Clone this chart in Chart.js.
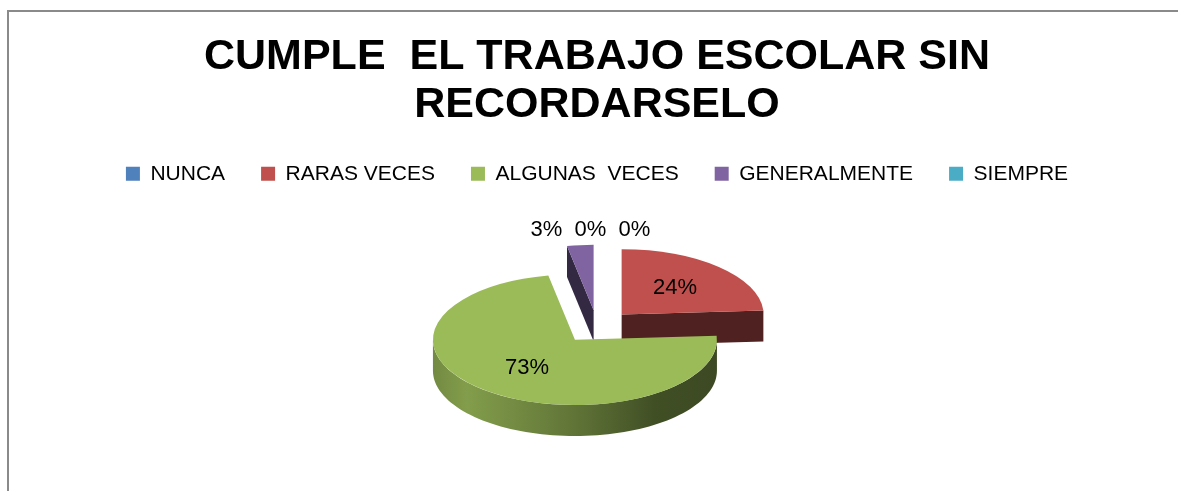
<!doctype html>
<html lang="es">
  <head>
    <meta charset="utf-8">
    <title>Cumple el trabajo escolar sin recordarselo</title>
    <style>
      * {
        margin: 0;
        padding: 0;
      }
      body {
        background: #fff;
        width: 1178px;
        height: 491px;
        overflow: hidden;
        position: relative;
      }
      .frame {
        position: absolute;
        left: 7px;
        top: 10px;
        width: 1300px;
        height: 600px;
        border-left: 2px solid #8a8a8a;
        border-top: 2px solid #8a8a8a;
      }
      #myChart {
        position: absolute;
        left: 0;
        top: 0;
      }
    </style>
  </head>
  <body>
    <div class="frame"></div>
    <canvas id="myChart" width="1178" height="491"></canvas>
    <script src="https://cdn.jsdelivr.net/npm/chart.js"></script>
    <script>
    // data
    const titleLines = ['CUMPLE  EL TRABAJO ESCOLAR SIN', 'RECORDARSELO'];
    const categories = ['NUNCA', 'RARAS VECES', 'ALGUNAS  VECES', 'GENERALMENTE', 'SIEMPRE'];
    const percentages = [0, 24, 73, 3, 0];
    const colours = ['#4F81BD', '#C0504D', '#9BBB59', '#8064A2', '#4BACC6'];

    const fontFamily = '"Liberation Sans", Arial, sans-serif';
    const tilt = 0.46;     // vertical squash of the pie
    const depth = 31;      // thickness of the pie
    const explode = 36;    // how far each slice is pulled out

    function shade(hex, f) {
      const n = parseInt(hex.slice(1), 16);
      const r = Math.round(((n >> 16) & 255) * f);
      const g = Math.round(((n >> 8) & 255) * f);
      const b = Math.round((n & 255) * f);
      return `rgb(${r}, ${g}, ${b})`;
    }

    function rim(s, t) {
      return [s.ax + s.r * Math.cos(t), s.ay + s.ry * Math.sin(t)];
    }

    // side walls of one slice (only the faces turned to the viewer)
    function drawSides(ctx, s) {
      const base = colours[s.i];
      [[s.startAngle, -1], [s.endAngle, 1]].forEach(([t, dir]) => {
        const normal = t + dir * Math.PI / 2;
        if (Math.sin(normal) <= 0.001) return;
        const [px, py] = rim(s, t);
        ctx.beginPath();
        ctx.moveTo(s.ax, s.ay);
        ctx.lineTo(px, py);
        ctx.lineTo(px, py + depth);
        ctx.lineTo(s.ax, s.ay + depth);
        ctx.closePath();
        ctx.fillStyle = shade(base, 0.41);
        ctx.fill();
      });

      [0, 2 * Math.PI].forEach(shift => {
        const lo = Math.max(s.startAngle, shift);
        const hi = Math.min(s.endAngle, shift + Math.PI);
        if (hi <= lo) return;
        const n = 80;
        ctx.beginPath();
        for (let k = 0; k <= n; k++) {
          const [px, py] = rim(s, lo + (hi - lo) * k / n);
          if (k === 0) ctx.moveTo(px, py); else ctx.lineTo(px, py);
        }
        for (let k = n; k >= 0; k--) {
          const [px, py] = rim(s, lo + (hi - lo) * k / n);
          ctx.lineTo(px, py + depth);
        }
        ctx.closePath();
        const grad = ctx.createLinearGradient(s.ax - s.r, 0, s.ax + s.r, 0);
        grad.addColorStop(0, shade(base, 0.74));
        grad.addColorStop(0.12, shade(base, 0.84));
        grad.addColorStop(0.5, shade(base, 0.62));
        grad.addColorStop(0.78, shade(base, 0.42));
        grad.addColorStop(1, shade(base, 0.39));
        ctx.fillStyle = grad;
        ctx.fill();
      });
    }

    // pie3d plugin block
    const pie3d = {
      id: 'pie3d',
      beforeDatasetsDraw(chart) {
        const { ctx } = chart;
        const arcs = chart.getDatasetMeta(0).data;
        const all = arcs.map((arc, i) => {
          const { x, y, startAngle, endAngle, outerRadius } = arc;
          const mid = (startAngle + endAngle) / 2;
          return {
            arc, i, x, y, startAngle, endAngle, mid,
            r: outerRadius,
            ry: outerRadius * tilt,
            ax: x + Math.cos(mid) * explode,
            ay: y + Math.sin(mid) * explode * tilt
          };
        });

        const slices = all.filter(s => s.endAngle - s.startAngle > 0);
        slices.sort((a, b) => a.ay - b.ay);

        slices.forEach(s => {
          drawSides(ctx, s);
          ctx.save();
          ctx.translate(s.ax, s.ay);
          ctx.scale(1, tilt);
          ctx.translate(-s.x, -s.y);
          s.arc.draw(ctx);
          ctx.restore();
        });

        // data labels
        ctx.save();
        ctx.font = `22px ${fontFamily}`;
        ctx.fillStyle = '#000';
        ctx.textAlign = 'center';
        ctx.textBaseline = 'middle';
        const outside = [];
        all.forEach(s => {
          const text = percentages[s.i] + '%';
          if (percentages[s.i] >= 10) {
            ctx.fillText(text, s.ax + Math.cos(s.mid) * s.r * 0.55, s.ay + Math.sin(s.mid) * s.ry * 0.55);
          } else {
            outside.push({
              text,
              angle: s.mid < 0 ? s.mid + 2 * Math.PI : s.mid,
              x: s.ax + Math.cos(s.mid) * s.r * 1.22,
              y: s.ay + Math.sin(s.mid) * s.ry * 1.22
            });
          }
        });
        if (outside.length) {
          outside.sort((a, b) => a.angle - b.angle);
          const gap = 44;
          const meanX = outside.reduce((t, o) => t + o.x, 0) / outside.length;
          const y = outside.reduce((t, o) => Math.min(t, o.y), Infinity);
          outside.forEach((o, k) => {
            ctx.fillText(o.text, meanX + (k - (outside.length - 1) / 2) * gap, y);
          });
        }
        ctx.restore();
        return false;
      }
    };

    // config
    const config = {
      type: 'pie',
      data: {
        labels: categories,
        datasets: [{
          data: percentages,
          backgroundColor: colours,
          borderWidth: 0,
          offset: 0
        }]
      },
      options: {
        responsive: false,
        animation: false,
        radius: 142,
        layout: {
          padding: { top: 12, left: 16, right: 0, bottom: 32 }
        },
        plugins: {
          title: {
            display: true,
            text: titleLines,
            color: '#000',
            font: { family: fontFamily, size: 43, weight: 'bold', lineHeight: 1.12 },
            padding: { top: 21, bottom: -2 }
          },
          legend: {
            position: 'top',
            labels: {
              color: '#000',
              boxWidth: 14,
              boxHeight: 14,
              padding: 36,
              font: { family: fontFamily, size: 21 }
            }
          },
          tooltip: { enabled: false }
        }
      },
      plugins: [pie3d]
    };

    // render init block
    const myChart = new Chart(
      document.getElementById('myChart'),
      config
    );
    </script>
  </body>
</html>
